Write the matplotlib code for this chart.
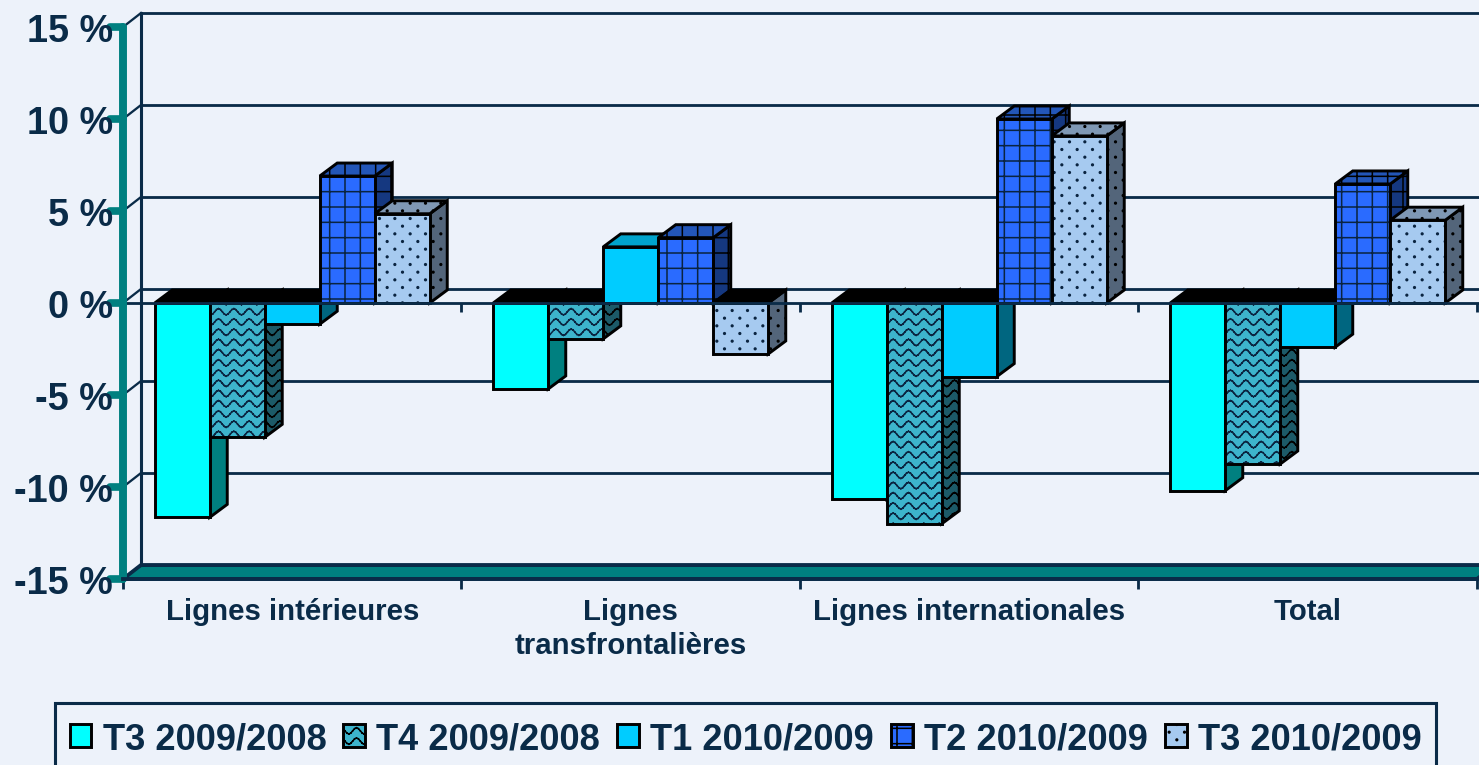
import matplotlib

matplotlib.use("Agg")
import matplotlib.hatch as mhatch
import matplotlib.pyplot as plt
import numpy as np
from matplotlib.markers import MarkerStyle, TICKLEFT
from matplotlib.patches import Patch, Rectangle
from matplotlib.path import Path

categories = ["Lignes intérieures", "Lignes\ntransfrontalières", "Lignes internationales", "Total"]
series = ["T3 2009/2008", "T4 2009/2008", "T1 2010/2009", "T2 2010/2009", "T3 2010/2009"]
t3_2009 = [-11.65, -4.67, -10.65, -10.2]
t4_2009 = [-7.3, -1.95, -12.0, -8.75]
t1_2010 = [-1.15, 3.05, -4.0, -2.4]
t2_2010 = [6.9, 3.55, 10.0, 6.47]
t3_2010 = [4.85, -2.77, 9.08, 4.5]
y_ticks = [-15, -10, -5, 0, 5, 10, 15]
y_labels = ["-15 %", "-10 %", "-5 %", "0 %", "5 %", "10 %", "15 %"]

W, H, DPI = 1479, 766, 92
BG = "#EDF2FA"
NAVY = "#0A2B48"
TEAL = "#008080"
HATCH = "#0A2440"
EDGE_W = 2.3
# front, side, top, hatch
STYLES = [
    ("#00FFFF", "#008080", "#00CCCC", ""),
    ("#3DB4CC", "#1C5A68", "#2E8FA3", "O"),
    ("#00CCFF", "#006680", "#00A3CC", ""),
    ("#2A6BFF", "#153880", "#2356B8", "+"),
    ("#A6CAF0", "#53657A", "#7F98B4", "o"),
]


class WaveHatch(mhatch.HatchPatternBase):
    def __init__(self, hatch, density):
        self.rows = hatch.count("O") * 9
        self.periods = 6
        self.steps = self.periods * 8
        self.num_vertices = self.rows * self.steps * 2

    def set_vertices_and_codes(self, vertices, codes):
        u = np.linspace(0, 1, self.steps + 1)
        wave = 0.034 * np.sin(2 * np.pi * self.periods * u)
        k = 0
        for r in range(self.rows):
            y = (r + 0.5) / self.rows + wave
            for s in range(self.steps):
                vertices[k] = (u[s], y[s])
                vertices[k + 1] = (u[s + 1], y[s + 1])
                codes[k] = Path.MOVETO
                codes[k + 1] = Path.LINETO
                k += 2


class DotHatch(mhatch.HatchPatternBase):
    def __init__(self, hatch, density):
        self.rows = hatch.count("o") * 12
        self.cols = 6
        self.circle = Path.unit_circle()
        self.num_vertices = self.rows * self.cols * len(self.circle.vertices)

    def set_vertices_and_codes(self, vertices, codes):
        n = len(self.circle.vertices)
        k = 0
        for r in range(self.rows):
            for c in range(self.cols):
                cx = (c + 0.25 + 0.5 * (r % 2)) / self.cols
                cy = (r + 0.5) / self.rows
                vertices[k:k + n] = self.circle.vertices * 0.009 + (cx, cy)
                codes[k:k + n] = self.circle.codes
                k += n


# "o" and "O" are taken over for the dotted and wavy fills
mhatch._hatch_types = [
    h for h in mhatch._hatch_types
    if h not in (mhatch.SmallCircles, mhatch.LargeCircles)
] + [WaveHatch, DotHatch]

plt.rcParams["font.family"] = ["Liberation Sans", "DejaVu Sans"]
plt.rcParams["font.weight"] = "bold"
plt.rcParams["hatch.linewidth"] = 1.2

fig = plt.figure(figsize=(W / DPI, H / DPI), dpi=DPI, facecolor=BG)
ax = fig.add_axes([123 / W, 1 - 580 / H, (1477 - 123) / W, (580 - 28) / H])
ax.set_facecolor("none")
ax.set_xlim(0, 4)
ax.set_ylim(-15, 15)

# one category is 338.5 px, one percent 18.4 px
PX_X = 1 / 338.5
PX_Y = 1 / 18.4
WALL_DX, WALL_DY = 18 * PX_X, 14 * PX_Y
BAR_DX, BAR_DY = 17.5 * PX_X, 13 * PX_Y
BAR_W = 55 * PX_X

# back wall, grid and floor
ax.fill(
    [0, WALL_DX, 4 + WALL_DX, 4],
    [-15, -15 + WALL_DY, -15 + WALL_DY, -15],
    facecolor=TEAL, edgecolor=NAVY, lw=3, clip_on=False, zorder=1,
)
ax.plot([WALL_DX, WALL_DX], [-15 + WALL_DY, 15 + WALL_DY], color=NAVY, lw=2.4, clip_on=False, zorder=1)
for v in y_ticks:
    ax.plot([WALL_DX, 4 + WALL_DX], [v + WALL_DY, v + WALL_DY], color=NAVY, lw=2.2, clip_on=False, zorder=1)
    ax.plot([0, WALL_DX], [v, v + WALL_DY], color=NAVY, lw=1.8, clip_on=False, zorder=1)


def draw_bar(left, value, style, z):
    front, side, top, hatch = style
    right = left + BAR_W
    level = max(value, 0)
    ax.fill(
        [right, right + BAR_DX, right + BAR_DX, right],
        [0, BAR_DY, value + BAR_DY, value],
        facecolor=side, edgecolor="black", hatch=hatch, lw=EDGE_W, zorder=z, clip_on=False,
    )
    # a falling bar shows its black lid at the zero level
    lid = top if value > 0 else "black"
    ax.fill(
        [left, left + BAR_DX, right + BAR_DX, right],
        [level, level + BAR_DY, level + BAR_DY, level],
        facecolor=lid, edgecolor="black", hatch=hatch if value > 0 else "", lw=EDGE_W, zorder=z, clip_on=False,
    )
    ax.bar(left, value, BAR_W, align="edge", color=front, edgecolor=HATCH, hatch=hatch, lw=0, zorder=z)
    ax.bar(left, value, BAR_W, align="edge", fill=False, edgecolor="black", lw=EDGE_W, zorder=z)


values = [t3_2009, t4_2009, t1_2010, t2_2010, t3_2010]
z = 2
for i in range(len(categories)):
    for j, vals in enumerate(values):
        left = i + 0.5 + (j - 2.5) * BAR_W
        draw_bar(left, vals[i], STYLES[j], z)
        z += 1

# zero axis with its ticks
ax.plot([0, 4 + 2 * PX_X], [0, 0], color=NAVY, lw=2.2, clip_on=False, zorder=z)
ax.vlines(range(5), -9 * PX_Y, 0, color=NAVY, lw=2.2, zorder=z, clip_on=False)

for name in ["top", "right"]:
    ax.spines[name].set_visible(False)
ax.spines["left"].set_color(TEAL)
ax.spines["left"].set_linewidth(6.2)
ax.spines["left"].set_capstyle("round")
ax.spines["left"].set_zorder(z)
ax.spines["bottom"].set_color(NAVY)
ax.spines["bottom"].set_linewidth(3)
ax.spines["bottom"].set_zorder(z)

ax.set_yticks(y_ticks, y_labels, fontsize=29.5, color=NAVY)
ax.tick_params(axis="y", length=10, width=6, color=TEAL, pad=-2)
for tick in ax.yaxis.get_major_ticks():
    tick.tick1line.set_marker(MarkerStyle(TICKLEFT, capstyle="round"))
ax.set_xticks(range(5), [""] * 5)
ax.tick_params(axis="x", which="major", length=8, width=2.2, color=NAVY)
ax.set_xticks(np.arange(4) + 0.5, categories, minor=True, fontsize=23, color=NAVY, linespacing=1.3)
ax.tick_params(axis="x", which="minor", length=0, pad=14)

# legend frame runs off the bottom of the picture
fig.add_artist(Rectangle(
    (55 / W, -0.02), (1436 - 55) / W, 1 - 704 / H + 0.02,
    transform=fig.transFigure, facecolor=BG, edgecolor=NAVY, lw=2.4,
))
handles = [
    Patch(facecolor=s[0], edgecolor="black", hatch=s[3], lw=EDGE_W, label=name)
    for s, name in zip(STYLES, series)
]
fig.legend(
    handles=handles, ncol=5, loc="upper left",
    bbox_to_anchor=(55 / W, 1 - 708 / H), borderaxespad=0,
    fontsize=28.4, labelcolor=NAVY,
    handlelength=0.6, handleheight=0.6, handletextpad=0.31, columnspacing=0.47, borderpad=0.4,
    frameon=False,
)

fig.savefig("out.png", dpi=DPI, facecolor=BG)
